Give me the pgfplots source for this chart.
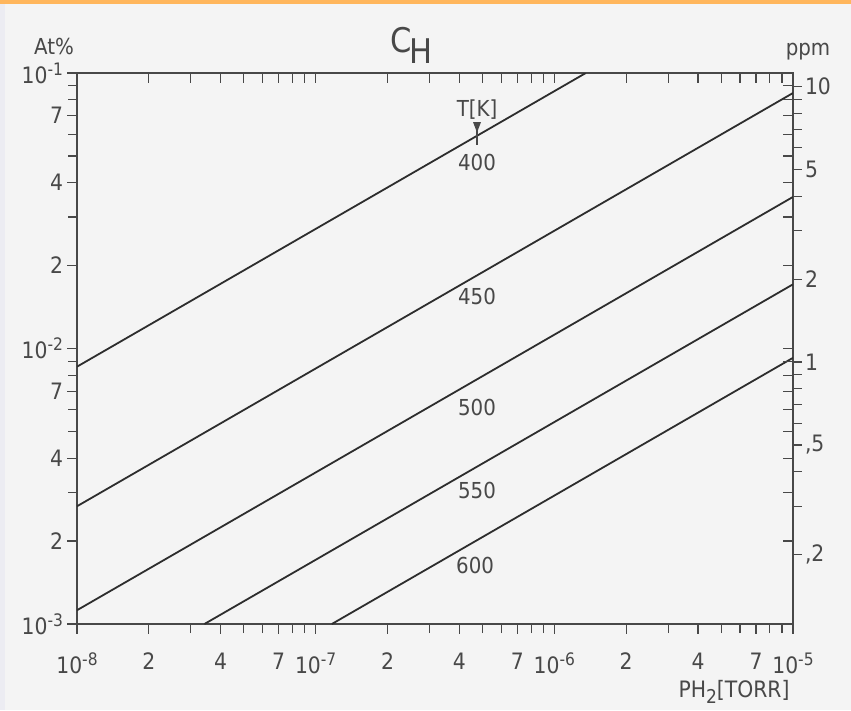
\documentclass[border=0pt]{standalone}
\usepackage{pgfplots}
\pgfplotsset{compat=1.18}
\usepackage{fontspec}
\setmainfont{DejaVu Sans Condensed}

\definecolor{paper}{RGB}{244,244,244}
\definecolor{edge}{RGB}{236,236,242}
\definecolor{band}{RGB}{255,182,92}
\definecolor{ink}{RGB}{45,45,45}
\definecolor{txt}{RGB}{72,72,72}

\newcommand{\tlfont}{\fontsize{11.3}{13}\selectfont}
% power of ten with a raised exponent
\newcommand{\dec}[1]{10\raisebox{4pt}{\fontsize{8.6}{10}\selectfont -#1}}

\begin{document}
\begin{tikzpicture}
% paper
\fill[paper] (0,0) rectangle (425.5pt,355pt);
\fill[edge] (0,0) rectangle (2.5pt,355pt);
\fill[band] (0,353pt) rectangle (425.5pt,355pt);

% concentration scale in At% with the isotherms
\begin{axis}[
  xmode=log, ymode=log,
  xmin=1e-8, xmax=1e-5, ymin=1e-3, ymax=1e-1,
  scale only axis, width=358pt, height=275.5pt,
  at={(38.5pt,43pt)}, anchor=south west,
  /pgf/number format/assume math mode=true,
  axis line style={txt, line width=0.7pt},
  tick style={txt, line width=0.6pt},
  major tick length=5pt, minor tick length=4.5pt,
  tick label style={font=\tlfont, text=txt},
  tick align=outside,
  xtick pos=left, ytick pos=left,
  xtick={1e-8,2e-8,4e-8,7e-8,1e-7,2e-7,4e-7,7e-7,1e-6,2e-6,4e-6,7e-6,1e-5},
  xticklabels={\dec{8},2,4,7,\dec{7},2,4,7,\dec{6},2,4,7,\dec{5}},
  minor xtick={3e-8,5e-8,6e-8,8e-8,9e-8,3e-7,5e-7,6e-7,8e-7,9e-7,3e-6,5e-6,6e-6,8e-6,9e-6},
  ytick={1e-3,2e-3,4e-3,7e-3,1e-2,2e-2,4e-2,7e-2,1e-1},
  yticklabels={\dec{3},2,4,7,\dec{2},2,4,7,\dec{1}},
  minor ytick={3e-3,5e-3,6e-3,8e-3,9e-3,3e-2,5e-2,6e-2,8e-2,9e-2},
  xticklabel style={yshift=-6pt},
  yticklabel style={xshift=1.5pt},
]
% T = 400 K
\addplot[ink, line width=0.9pt] coordinates {(1e-8,0.00859) (1.355e-6,0.1)};
% T = 450 K
\addplot[ink, line width=0.9pt] coordinates {(1e-8,0.002675) (1e-5,0.0846)};
% T = 500 K
\addplot[ink, line width=0.9pt] coordinates {(1e-8,0.001122) (1e-5,0.0355)};
% T = 550 K
\addplot[ink, line width=0.9pt] coordinates {(3.42e-8,0.001) (1e-5,0.0171)};
% T = 600 K
\addplot[ink, line width=0.9pt] coordinates {(1.169e-7,0.001) (1e-5,0.00925)};

\node[font=\fontsize{11}{13}\selectfont, text=txt] at (rel axis cs:0.5587,0.9328) {T[K]};
\node[font=\fontsize{11}{13}\selectfont, text=txt] at (rel axis cs:0.5587,0.8367) {400};
\node[font=\fontsize{11}{13}\selectfont, text=txt] at (rel axis cs:0.5587,0.5935) {450};
\node[font=\fontsize{11}{13}\selectfont, text=txt] at (rel axis cs:0.5587,0.3938) {500};
\node[font=\fontsize{11}{13}\selectfont, text=txt] at (rel axis cs:0.5587,0.2432) {550};
\node[font=\fontsize{11}{13}\selectfont, text=txt] at (rel axis cs:0.5560,0.1071) {600};
\draw[txt, line width=0.6pt] (rel axis cs:0.5587,0.911) -- (rel axis cs:0.5587,0.8693);
\fill[txt] ([xshift=-2pt]rel axis cs:0.5587,0.911) -- ([xshift=2pt]rel axis cs:0.5587,0.911) -- (rel axis cs:0.5587,0.892) -- cycle;
\end{axis}

% inward ticks on top and right
\begin{axis}[
  xmode=log, ymode=log,
  xmin=1e-8, xmax=1e-5, ymin=1e-3, ymax=1e-1,
  scale only axis, width=358pt, height=275.5pt,
  at={(38.5pt,43pt)}, anchor=south west,
  axis line style={draw=none},
  tick style={txt, line width=0.6pt},
  major tick length=5pt,
  tick align=inside,
  xtick pos=right, ytick pos=right,
  xtick={1e-8,2e-8,3e-8,4e-8,5e-8,6e-8,7e-8,8e-8,9e-8,1e-7,2e-7,3e-7,4e-7,5e-7,6e-7,7e-7,8e-7,9e-7,1e-6,2e-6,3e-6,4e-6,5e-6,6e-6,7e-6,8e-6,9e-6,1e-5},
  ytick={1e-3,2e-3,3e-3,4e-3,5e-3,6e-3,7e-3,8e-3,9e-3,1e-2,2e-2,3e-2,4e-2,5e-2,6e-2,7e-2,8e-2,9e-2,1e-1},
  xticklabels={}, yticklabels={},
]
\end{axis}

% ppm scale
\begin{axis}[
  xmode=log, ymode=log,
  xmin=1e-8, xmax=1e-5, ymin=0.112, ymax=11.2,
  scale only axis, width=358pt, height=275.5pt,
  at={(38.5pt,43pt)}, anchor=south west,
  /pgf/number format/assume math mode=true,
  axis line style={draw=none},
  tick style={txt, line width=0.6pt},
  tick label style={font=\tlfont, text=txt},
  tick align=outside,
  xtick=\empty,
  ytick pos=right,
  ytick={0.2,0.5,1,2,5,10},
  yticklabels={{,2},{,5},1,2,5,10},
  minor ytick={0.3,0.4,0.6,0.7,0.8,0.9,3,4,6,7,8,9},
  major tick length=4.5pt, minor tick length=4.5pt,
  yticklabel style={anchor=west, xshift=-2pt},
]
\end{axis}

% titles and axis names
\node[font=\fontsize{17}{19}\selectfont, text=txt] at (200.5pt,335pt) {C};
\node[font=\fontsize{17}{19}\selectfont, text=txt] at (210.5pt,329.5pt) {H};
\node[font=\fontsize{11}{13}\selectfont, text=txt] at (27pt,332pt) {At\%};
\node[font=\fontsize{11}{13}\selectfont, text=txt] at (404pt,329pt) {ppm};
\node[font=\tlfont, text=txt] at (367pt,9pt) {PH\raisebox{-3pt}{\fontsize{9.5}{10}\selectfont 2}[TORR]};
\end{tikzpicture}
\end{document}
